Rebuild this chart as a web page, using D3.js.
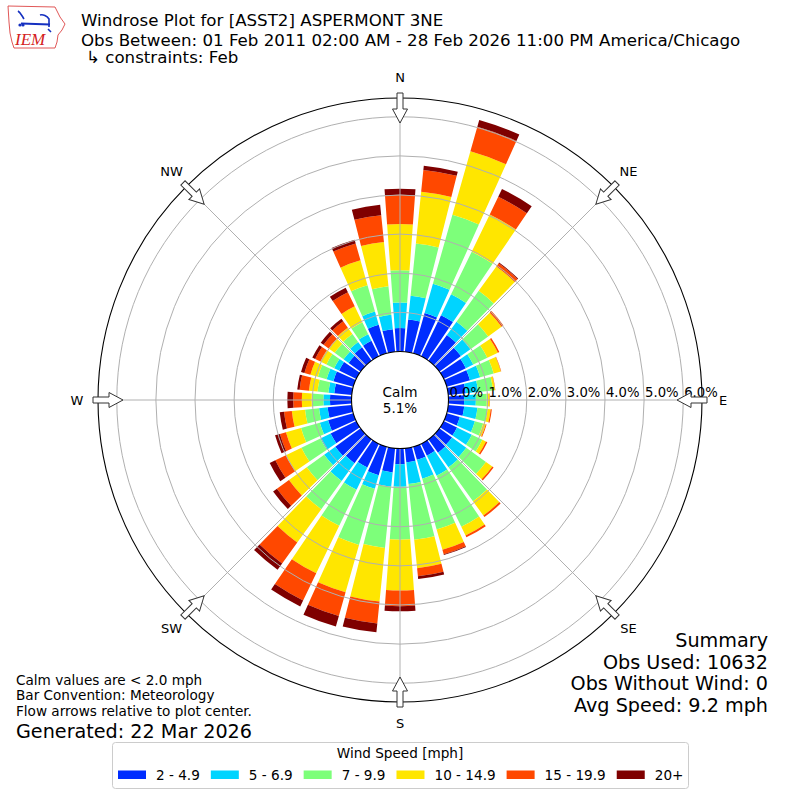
<!DOCTYPE html>
<html>
<head>
<meta charset="utf-8">
<script src="https://cdn.jsdelivr.net/npm/d3@7"></script>
<style>
  body { margin: 0; background: #fff; }
  svg { display: block; font-family: "DejaVu Sans", sans-serif; }
</style>
</head>
<body>
<svg id="chart" width="800" height="800"></svg>
<script>
// direction bins (degrees, meteorological) and speed classes
const directions = [0, 10, 20, 30, 40, 50, 60, 70, 80, 90, 100, 110, 120, 130, 140, 150, 160, 170,
                    180, 190, 200, 210, 220, 230, 240, 250, 260, 270, 280, 290, 300, 310, 320, 330, 340, 350];
const speedLabels = ['2 - 4.9', '5 - 6.9', '7 - 9.9', '10 - 14.9', '15 - 19.9', '20+'];

// percent of observations per direction, one array per speed class
const spd2to5   = [0.60, 0.83, 1.07, 1.17, 0.81, 0.68, 0.63, 0.62, 0.45, 0.40, 0.41, 0.35, 0.38, 0.40, 0.42, 0.34, 0.35, 0.36,
                   0.40, 0.62, 0.76, 0.68, 0.75, 0.80, 0.73, 0.67, 0.62, 0.55, 0.45, 0.53, 0.49, 0.38, 0.42, 0.44, 0.76, 0.58];
const spd5to7   = [0.65, 0.61, 0.78, 0.59, 0.42, 0.30, 0.21, 0.27, 0.32, 0.30, 0.34, 0.40, 0.42, 0.45, 0.46, 0.57, 0.50, 0.56,
                   0.58, 0.37, 0.36, 0.63, 0.56, 0.35, 0.29, 0.22, 0.22, 0.17, 0.15, 0.18, 0.14, 0.16, 0.17, 0.19, 0.35, 0.37];
const spd7to10  = [0.83, 1.34, 1.83, 1.21, 0.97, 0.56, 0.40, 0.36, 0.38, 0.28, 0.26, 0.22, 0.30, 0.62, 1.07, 1.45, 1.35, 1.43,
                   1.35, 1.57, 1.49, 1.02, 0.89, 0.55, 0.54, 0.50, 0.36, 0.30, 0.28, 0.23, 0.22, 0.28, 0.25, 0.34, 0.70, 0.73];
const spd10to15 = [1.18, 1.33, 1.69, 1.06, 0.77, 0.42, 0.30, 0.19, 0.05, 0.07, 0.08, 0.07, 0.10, 0.20, 0.45, 0.25, 0.54, 0.73,
                   1.30, 1.38, 1.26, 1.35, 1.05, 0.56, 0.44, 0.40, 0.34, 0.25, 0.22, 0.20, 0.17, 0.19, 0.20, 0.45, 0.66, 1.14];
const spd15to20 = [0.75, 0.56, 0.65, 0.50, 0.10, 0.06, 0.04, 0.01, 0.01, 0.01, 0.03, 0.02, 0.04, 0.04, 0.05, 0.05, 0.12, 0.21,
                   0.40, 0.56, 0.63, 0.77, 0.66, 0.38, 0.30, 0.16, 0.20, 0.22, 0.24, 0.16, 0.15, 0.16, 0.20, 0.40, 0.45, 0.69];
const spd20up   = [0.15, 0.11, 0.18, 0.22, 0.02, 0.00, 0.00, 0.00, 0.00, 0.00, 0.00, 0.00, 0.00, 0.00, 0.00, 0.00, 0.02, 0.07,
                   0.13, 0.23, 0.28, 0.17, 0.20, 0.12, 0.16, 0.13, 0.11, 0.15, 0.06, 0.09, 0.08, 0.09, 0.08, 0.13, 0.10, 0.27];

const calmPct = 5.1;
const ringTicks = [0, 1, 2, 3, 4, 5, 6];
const compassNames  = ['N', 'NE', 'E', 'SE', 'S', 'SW', 'W', 'NW'];
const compassAngles = [0, 45, 90, 135, 180, 225, 270, 315];

const titleLines = ['Windrose Plot for [ASST2] ASPERMONT 3NE',
                    'Obs Between: 01 Feb 2011 02:00 AM - 28 Feb 2026 11:00 PM America/Chicago',
                    '\u21b3 constraints: Feb'];
const noteLines = ['Calm values are < 2.0 mph', 'Bar Convention: Meteorology', 'Flow arrows relative to plot center.'];
const generatedText = 'Generated: 22 Mar 2026';
const summaryLines = ['Summary', 'Obs Used: 10632', 'Obs Without Wind: 0', 'Avg Speed: 9.2 mph'];

const speedColors = ['#002dff', '#00d4ff', '#7dff7a', '#ffe600', '#ff4800', '#7f0000'];

const svg = d3.select('#chart');
const cx = 400, cy = 400;
const calmR = 48.5, outerR = 302;

// radial scale: 0% sits on the calm circle
const r = d3.scaleLinear().domain([0, 6.48]).range([calmR, outerR]);
const angle = d3.scaleLinear().domain([0, 360]).range([0, 2 * Math.PI]);

// stack the speed classes per direction
const series = [spd2to5, spd5to7, spd7to10, spd10to15, spd15to20, spd20up];
const rows = directions.map((dir, i) => {
  let row = { dir: dir };
  speedLabels.forEach((k, j) => row[k] = series[j][i]);
  return row;
});
const stacked = d3.stack().keys(speedLabels)(rows);

const plot = svg.append('g').attr('transform', `translate(${cx},${cy})`);

// bars
const halfW = angle(4.2);
const arc = d3.arc();
plot.selectAll('g.layer')
  .data(stacked)
  .join('g')
    .attr('class', 'layer')
    .attr('fill', (d, i) => speedColors[i])
  .selectAll('path')
  .data(d => d.filter(s => s[1] > s[0]))
  .join('path')
    .attr('d', d => arc({
      innerRadius: r(d[0]),
      outerRadius: r(d[1]),
      startAngle: angle(d.data.dir) - halfW,
      endAngle: angle(d.data.dir) + halfW
    }));

// grid on top of the bars
plot.selectAll('circle.ring')
  .data(ringTicks.filter(t => t > 0))
  .join('circle')
    .attr('class', 'ring')
    .attr('r', d => r(d))
    .attr('fill', 'none')
    .attr('stroke', '#b0b0b0')
    .attr('stroke-width', 1);

plot.selectAll('line.spoke')
  .data(compassAngles)
  .join('line')
    .attr('class', 'spoke')
    .attr('x1', d => r(0) * Math.sin(angle(d)))
    .attr('y1', d => -r(0) * Math.cos(angle(d)))
    .attr('x2', d => outerR * Math.sin(angle(d)))
    .attr('y2', d => -outerR * Math.cos(angle(d)))
    .attr('stroke', '#b0b0b0')
    .attr('stroke-width', 1);

plot.append('circle')
  .attr('r', outerR)
  .attr('fill', 'none')
  .attr('stroke', '#000')
  .attr('stroke-width', 1.1);

// calm circle
plot.append('circle')
  .attr('r', calmR)
  .attr('fill', '#fff')
  .attr('stroke', '#000')
  .attr('stroke-width', 1.1);
plot.append('text')
  .attr('text-anchor', 'middle')
  .attr('y', -3.5)
  .attr('font-size', 13.6)
  .text('Calm');
plot.append('text')
  .attr('text-anchor', 'middle')
  .attr('y', 13)
  .attr('font-size', 13.6)
  .text(d3.format('.1f')(calmPct) + '%');

// radial tick labels
plot.selectAll('text.rlabel')
  .data(ringTicks)
  .join('text')
    .attr('class', 'rlabel')
    .attr('x', d => r(d) + 1)
    .attr('y', -3)
    .attr('font-size', 13.2)
    .text(d => d3.format('.1f')(d) + '%');

// flow arrows pointing to the centre
const arrowShape = [[-3, -307], [3, -307], [3, -291], [7.5, -291], [0, -277], [-7.5, -291], [-3, -291]];
plot.selectAll('path.arrow')
  .data(compassAngles)
  .join('path')
    .attr('class', 'arrow')
    .attr('d', 'M' + arrowShape.join('L') + 'Z')
    .attr('transform', d => `rotate(${d})`)
    .attr('fill', '#fff')
    .attr('stroke', '#333')
    .attr('stroke-width', 1);

// compass labels
plot.selectAll('text.compass')
  .data(compassAngles)
  .join('text')
    .attr('class', 'compass')
    .attr('x', d => 323 * Math.sin(angle(d)))
    .attr('y', d => -323 * Math.cos(angle(d)))
    .attr('text-anchor', 'middle')
    .attr('dominant-baseline', 'central')
    .attr('font-size', 13)
    .text((d, i) => compassNames[i]);

// title block
svg.selectAll('text.title')
  .data(titleLines)
  .join('text')
    .attr('class', 'title')
    .attr('x', (d, i) => i === 2 ? 86 : 81)
    .attr('y', (d, i) => [26, 45.5, 63][i])
    .attr('font-size', 16.67)
    .text(d => d);

// IEM logo (rough)
const logo = svg.append('g');
logo.append('path')
  .attr('d', 'M8,6 L55,7 L57,11 L60,17 L65,24 L62,30 L58,35 L57,42 L55,48 L14,48 L12,42 L10,33 L9,22 Z')
  .attr('fill', '#fff')
  .attr('stroke', '#d44')
  .attr('stroke-width', 0.9);
logo.append('path')
  .attr('d', 'M21,23.5 L50,24.5')
  .attr('stroke', '#1530c0')
  .attr('stroke-width', 2.2);
logo.append('path')
  .attr('d', 'M18,11 C21,13 22,16 24,19 M40,15 C43,14 47,16 49,19 L49,27 M48,29 L51,32')
  .attr('fill', 'none')
  .attr('stroke', '#1530c0')
  .attr('stroke-width', 1.6);
logo.append('circle').attr('cx', 20).attr('cy', 25).attr('r', 1.6).attr('fill', '#1530c0');
logo.append('circle').attr('cx', 23).attr('cy', 25).attr('r', 1.6).attr('fill', '#1530c0');
logo.append('text')
  .attr('x', 15).attr('y', 45)
  .attr('font-family', '"Liberation Serif", serif')
  .attr('font-style', 'italic')
  .attr('font-size', 17)
  .attr('fill', '#d42020')
  .text('IEM');

// notes, bottom left
svg.selectAll('text.note')
  .data(noteLines)
  .join('text')
    .attr('class', 'note')
    .attr('x', 16)
    .attr('y', (d, i) => 684.5 + i * 15.5)
    .attr('font-size', 13.6)
    .text(d => d);
svg.append('text')
  .attr('x', 16)
  .attr('y', 737.5)
  .attr('font-size', 19.2)
  .text(generatedText);

// summary, bottom right
svg.selectAll('text.summary')
  .data(summaryLines)
  .join('text')
    .attr('class', 'summary')
    .attr('x', 768)
    .attr('y', (d, i) => 647 + i * 21.7)
    .attr('text-anchor', 'end')
    .attr('font-size', 19.2)
    .text(d => d);

// legend
const legend = svg.append('g');
legend.append('rect')
  .attr('x', 112.5).attr('y', 742.5)
  .attr('width', 576).attr('height', 46)
  .attr('rx', 3)
  .attr('fill', '#fff')
  .attr('stroke', '#ccc');
legend.append('text')
  .attr('x', 400).attr('y', 758)
  .attr('text-anchor', 'middle')
  .attr('font-size', 13.6)
  .text('Wind Speed [mph]');
let lx = 118;
speedLabels.forEach((lab, i) => {
  legend.append('rect')
    .attr('x', lx).attr('y', 770.5)
    .attr('width', 28).attr('height', 8.5)
    .attr('fill', speedColors[i]);
  const t = legend.append('text')
    .attr('x', lx + 38).attr('y', 779.5)
    .attr('font-size', 13.6)
    .text(lab);
  lx += 38 + t.node().getComputedTextLength() + 11;
});
</script>
</body>
</html>
